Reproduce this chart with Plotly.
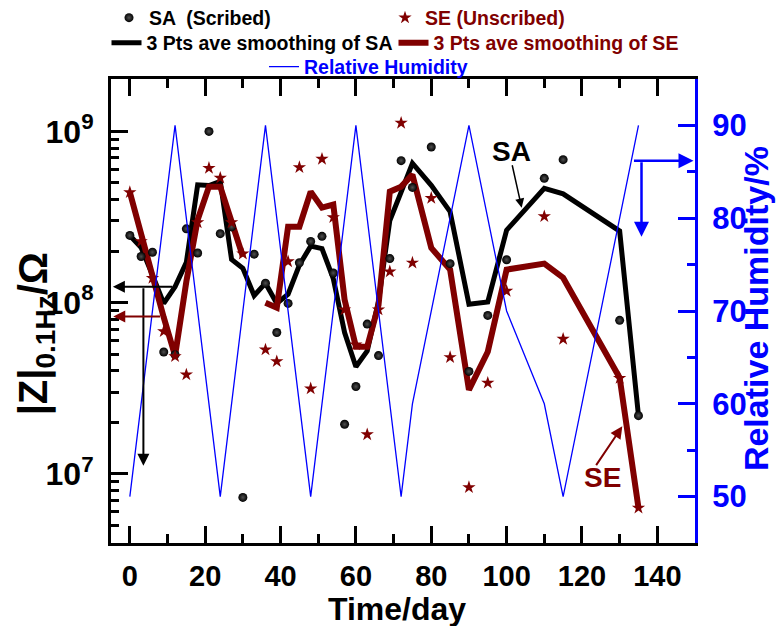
import plotly.graph_objects as go

# ---------------- data ----------------
days = [0, 3, 6, 9, 12, 15, 18, 21, 24, 27, 30, 33, 36, 39, 42, 45, 48, 51, 54, 57,
        60, 63, 66, 69, 72, 75, 80, 85, 90, 95, 100, 110, 115, 130, 135]

# |Z| at 0.1 Hz, scribed sample (Ohm)
sa_z = [2.47e8, 1.86e8, 1.97e8, 5.15e7, 4.97e7, 2.70e8, 1.95e8, 1.00e9, 2.53e8, 2.77e8,
        7.3e6, 1.92e8, 1.30e8, 6.7e7, 9.9e7, 1.71e8, 2.28e8, 2.44e8, 1.49e8, 1.95e7,
        3.24e7, 7.5e7, 4.91e7, 1.81e8, 6.75e8, 4.71e8, 8.11e8, 1.69e8, 3.97e7, 8.43e7,
        1.78e8, 5.32e8, 6.84e8, 7.89e7, 2.19e7]

# |Z| at 0.1 Hz, unscribed sample (Ohm); day 33 not measured
se_z = [4.41e8, 2.28e8, 1.39e8, 6.8e7, 4.86e7, 3.8e7, 2.94e8, 6.11e8, 5.35e8, 2.94e8,
        1.93e8, None, 5.32e7, 4.54e7, 1.74e8, 6.17e8, 3.15e7, 6.9e8, 3.15e8, 9.1e7,
        5.69e7, 1.7e7, 9.1e7, 1.52e8, 1.12e9, 1.71e8, 4.08e8, 4.8e7, 8.36e6, 3.4e7,
        1.17e8, 3.19e8, 6.14e7, 3.63e7, 6.34e6]

# 3-point adjacent-average curves
sa_smooth = [2.47e8, 2.10e8, 1.45e8, 9.9e7, 1.24e8, 1.72e8, 4.88e8, 4.83e8, 5.10e8, 1.79e8,
             1.59e8, 1.10e8, 1.30e8, 9.9e7, 1.12e8, 1.66e8, 2.14e8, 2.07e8, 1.38e8, 6.7e7,
             4.23e7, 5.22e7, 1.02e8, 3.02e8, 4.42e8, 6.52e8, 4.84e8, 3.40e8, 9.8e7, 1.01e8,
             2.65e8, 4.65e8, 4.32e8, 2.62e8, 2.19e7]
se_smooth = [4.41e8, 2.46e8, 1.44e8, 8.2e7, 4.9e7, 1.33e8, 3.05e8, 4.76e8, 4.76e8, 2.97e8,
             1.86e8, None, 1.0e8, 9.35e7, 2.78e8, 2.78e8, 4.45e8, 3.59e8, 3.74e8, 1.04e8,
             5.53e7, 5.53e7, 9.7e7, 4.45e8, 4.76e8, 5.59e8, 2.09e8, 1.56e8, 3.1e7, 5.17e7,
             1.56e8, 1.69e8, 1.40e8, 3.65e7, 6.34e6]

# relative humidity cycle
rh_days = [0, 12, 24, 36, 48, 60, 72, 75, 90, 100, 110, 115, 135]
rh = [50, 90, 50, 90, 50, 90, 50, 60, 90, 70, 60, 50, 90]

x_ticks = [0, 20, 40, 60, 80, 100, 120, 140]
z_ticks = [1e7, 1e8, 1e9]
z_ticktext = ["10<sup>7</sup>", "10<sup>8</sup>", "10<sup>9</sup>"]
rh_ticks = [50, 60, 70, 80, 90]

# ---------------- style ----------------
FONT = "Liberation Sans, Arial, sans-serif"
WINE = "#800000"
BLUE = "#0000FF"
W, H = 776, 626
L, R, T, B = 110.5, 695.5, 79.3, 543.3


def px_x(px):
    return (px - L) / (R - L)


def px_y(py):
    return (B - py) / (B - T)


def bold(size, color="black"):
    return dict(family=FONT, size=size, color=color, weight="bold")


fig = go.Figure()

fig.add_trace(go.Scatter(
    x=days, y=sa_smooth, mode="lines", name="3 Pts ave smoothing of SA",
    line=dict(color="black", width=5), legend="legend2"))
fig.add_trace(go.Scatter(
    x=days, y=se_smooth, mode="lines", connectgaps=False,
    name=f"<span style='color:{WINE}'>3 Pts ave smoothing of SE</span>",
    line=dict(color=WINE, width=6), legend="legend2"))
fig.add_trace(go.Scatter(
    x=days, y=sa_z, mode="markers", name="SA  (Scribed)",
    marker=dict(symbol="circle", size=9, color="black",
                gradient=dict(type="radial", color="#505050"), line=dict(width=0)),
    legend="legend"))
fig.add_trace(go.Scatter(
    x=days, y=se_z, mode="markers",
    name=f"<span style='color:{WINE}'>SE (Unscribed)</span>",
    marker=dict(symbol="star", size=10, color=WINE, line=dict(width=0)),
    legend="legend"))
fig.add_trace(go.Scatter(
    x=rh_days, y=rh, mode="lines", yaxis="y2",
    name=f"<span style='color:{BLUE}'>Relative Humidity</span>",
    line=dict(color=BLUE, width=1.3), legend="legend3"))

legend_common = dict(orientation="h", xref="container", yref="container",
                     xanchor="left", yanchor="middle", bgcolor="rgba(0,0,0,0)",
                     borderwidth=0, font=bold(19.5), entrywidthmode="pixels")

fig.update_layout(
    width=W, height=H,
    margin=dict(l=L, r=W - R, t=T, b=H - B, pad=0, autoexpand=False),
    plot_bgcolor="white", paper_bgcolor="white",
    legend=dict(legend_common, x=109 / W, y=1 - 18 / H, entrywidth=231),
    legend2=dict(legend_common, x=106.5 / W, y=1 - 43 / H, entrywidth=242),
    legend3=dict(legend_common, x=264 / W, y=1 - 67 / H),
    xaxis=dict(
        range=[-5, 150], showline=True, linecolor="black", linewidth=3, mirror="ticks",
        ticks="inside", ticklen=17, tickwidth=3, tickcolor="black",
        tickvals=x_ticks, tickfont=bold(29), ticklabelstandoff=5,
        minor=dict(tickvals=list(range(10, 140, 20)), ticks="inside", ticklen=9,
                   tickwidth=3, tickcolor="black"),
        showgrid=False, zeroline=False),
    yaxis=dict(
        type="log", range=[6.597, 9.306], showline=True, linecolor="black", linewidth=3,
        ticks="inside", ticklen=17, tickwidth=3, tickcolor="black",
        tickvals=z_ticks, ticktext=z_ticktext, tickfont=bold(32), ticklabelstandoff=8,
        minor=dict(tickvals=[m * 10 ** e for e in (6, 7, 8) for m in range(2, 10)
                             if m * 10 ** e > 3.9e6],
                   ticks="inside", ticklen=8, tickwidth=3, tickcolor="black"),
        showgrid=False, zeroline=False),
    yaxis2=dict(
        overlaying="y", side="right", range=[45, 95], showline=True, linecolor=BLUE,
        linewidth=3, ticks="inside", ticklen=17, tickwidth=3, tickcolor=BLUE,
        tickvals=rh_ticks, tickfont=bold(31, BLUE), ticklabelstandoff=8,
        minor=dict(tickvals=[55, 65, 75, 85], ticks="inside", ticklen=8, tickwidth=3,
                   tickcolor=BLUE),
        showgrid=False, zeroline=False),
)

# axis titles
fig.add_annotation(text="Time/day", xref="paper", yref="paper", x=px_x(397), y=px_y(609),
                   showarrow=False, font=bold(32), xanchor="center", yanchor="middle")
fig.add_annotation(text="|Z|<sub>0.1Hz</sub>/Ω", xref="paper", yref="paper",
                   x=px_x(35), y=px_y(334), textangle=-90, showarrow=False,
                   font=bold(40), xanchor="center", yanchor="middle")
fig.add_annotation(text="Relative Humidity/%", xref="paper", yref="paper",
                   x=px_x(756), y=px_y(309), textangle=-90, showarrow=False,
                   font=bold(34, BLUE), xanchor="center", yanchor="middle")


def arrow(x, y, ax, ay, color, yref="y", width=2, size=1.2):
    fig.add_annotation(x=x, y=y, ax=ax, ay=ay, xref="x", yref=yref, axref="x",
                       ayref=yref, text="", showarrow=True, arrowhead=2,
                       arrowsize=size, arrowwidth=width, arrowcolor=color, standoff=0)


# axis pointers
arrow(-4.5, 8.093, 11.6, 8.093, "black")
arrow(3.6, 7.048, 3.6, 8.093, "black")
arrow(-4.4, 7.92, 8.4, 7.92, WINE)
arrow(149.6, 86.2, 133.4, 86.2, BLUE, yref="y2", width=2.5)
arrow(135.8, 78.0, 135.8, 86.2, BLUE, yref="y2", width=2.5)

# curve labels
fig.add_annotation(text="SA", x=101.3, y=8.881, xref="x", yref="y", showarrow=False,
                   font=bold(28))
arrow(104.0, 8.555, 101.4, 8.811, "black", width=1.5)
fig.add_annotation(text="SE", x=125.4, y=6.978, xref="x", yref="y", showarrow=False,
                   font=bold(28, WINE))
arrow(130.7, 7.278, 123.5, 7.043, WINE, width=2)

fig.write_html("out.html")
